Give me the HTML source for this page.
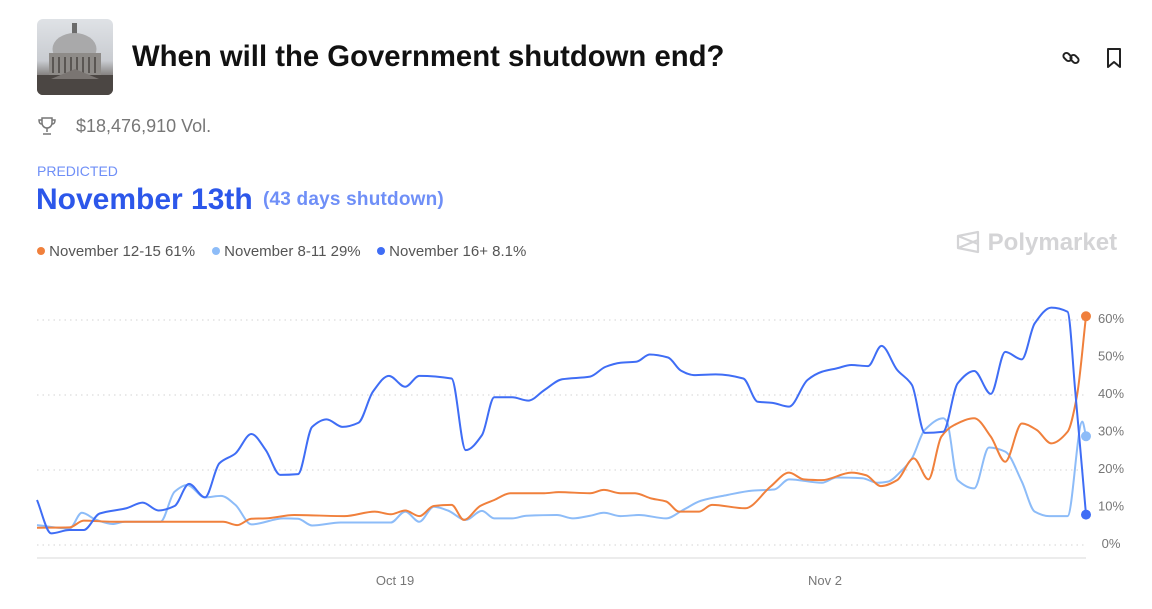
<!DOCTYPE html>
<html><head><meta charset="utf-8">
<style>
body{margin:0;width:1152px;height:609px;background:#fff;font-family:"Liberation Sans",sans-serif;position:relative;overflow:hidden}
.abs{position:absolute;white-space:nowrap}
.dot{display:inline-block;width:8px;height:8px;border-radius:4px;vertical-align:1px}
</style></head>
<body>
<div class="abs" style="left:37px;top:19px;width:76px;height:76px;border-radius:6px;overflow:hidden;background:linear-gradient(#dfe2e6,#c9ccd1 55%,#6f6a66 80%,#4a4541)">
<svg width="76" height="76" viewBox="0 0 76 76"><rect x="35" y="4" width="5" height="12" fill="#6b6b6b"/><ellipse cx="37.5" cy="30" rx="22" ry="16" fill="#a9a9aa"/><rect x="12" y="34" width="52" height="22" fill="#8e8b88"/><g fill="#5a5653"><rect x="15" y="38" width="2" height="16"/><rect x="21" y="38" width="2" height="16"/><rect x="27" y="38" width="2" height="16"/><rect x="33" y="38" width="2" height="16"/><rect x="39" y="38" width="2" height="16"/><rect x="45" y="38" width="2" height="16"/><rect x="51" y="38" width="2" height="16"/><rect x="57" y="38" width="2" height="16"/></g><rect x="0" y="56" width="76" height="20" fill="#4b4643"/><polygon points="14,60 38,50 62,60" fill="#7a7572"/></svg></div>
<div class="abs" style="left:132px;top:40px;font-size:29.3px;font-weight:bold;color:#111">When will the Government shutdown end?</div>
<svg class="abs" style="left:1060px;top:47px" width="22" height="22" viewBox="0 0 22 22"><g fill="none" stroke="#222" stroke-width="2"><rect x="3" y="7" width="9" height="6" rx="3" transform="rotate(45 7.5 10)"/><rect x="10" y="9" width="9" height="6" rx="3" transform="rotate(45 14.5 12)"/></g></svg>
<svg class="abs" style="left:1104px;top:47px" width="20" height="22" viewBox="0 0 20 22"><path d="M4 2h12v18l-6-5-6 5z" fill="none" stroke="#222" stroke-width="2" stroke-linejoin="round"/></svg>
<svg class="abs" style="left:37px;top:116px" width="20" height="20" viewBox="0 0 20 20"><g fill="none" stroke="#777" stroke-width="1.5"><path d="M5 2h10v5a5 5 0 0 1-10 0z"/><path d="M5 4H2c0 3 1 4 3 4M15 4h3c0 3-1 4-3 4M10 12v4M6 18h8"/></g></svg>
<div class="abs" style="left:76px;top:116px;font-size:18px;color:#777">$18,476,910 Vol.</div>
<div class="abs" style="left:37px;top:163px;font-size:14px;color:#6f8ff7">PREDICTED</div>
<div class="abs" style="left:36px;top:183px;font-size:30px;font-weight:bold;color:#2c57ea">November 13th</div>
<div class="abs" style="left:263px;top:189px;font-size:19px;font-weight:bold;color:#6f8ff7;letter-spacing:0.2px">(43 days shutdown)</div>
<div class="abs" style="left:37px;top:243px;font-size:15px;color:#555">
<span class="abs" style="left:0"><span class="dot" style="background:#f0803c"></span> November 12-15 61%</span>
<span class="abs" style="left:175px"><span class="dot" style="background:#8dbcf8"></span> November 8-11 29%</span>
<span class="abs" style="left:340px"><span class="dot" style="background:#3f6df5"></span> November 16+ 8.1%</span></div>
<div class="abs" style="left:955px;top:229px;font-size:24px;font-weight:bold;color:#d4d4d6"><svg width="26" height="24" viewBox="0 0 26 24" style="vertical-align:-4px"><path d="M3 6l20-4v20L3 18z M3 6l20 8M3 18l20-8" fill="none" stroke="#d4d4d6" stroke-width="2.2" stroke-linejoin="round"/></svg> Polymarket</div>
<svg id="chart" class="abs" style="left:0;top:0" width="1152" height="609"></svg>
<script>
const yTicks=[0,10,20,30,40,50,60];
const gridTicks=[0,20,40,60];
const xTickDays=[0,14];
const xTickLabels=["Oct 19","Nov 2"];
const seriesNames=["November 16+","November 8-11","November 12-15"];
const blueDays=[-11.66,-11.2,-10.6,-10.14,-9.62,-8.75,-8.22,-7.7,-7.18,-6.71,-6.19,-5.72,-5.2,-4.68,-4.21,-3.74,-3.16,-2.7,-2.23,-1.71,-1.19,-0.72,-0.2,0.33,0.79,1.84,2.3,2.83,3.23,3.81,4.34,4.86,5.44,6.35,6.85,7.34,7.87,8.29,8.89,9.31,9.73,10.44,11.34,11.81,12.29,12.83,13.43,13.9,14.38,14.86,15.4,15.84,16.35,16.83,17.25,17.85,18.32,18.86,19.4,19.87,20.41,20.83,21.37,21.9,22.15,22.5];
const blueVals=[12,3.1,4,4,8.4,9.8,11.3,9.2,10.4,16.3,12.7,21.8,24.4,29.6,25.3,18.7,18.9,31.5,33.5,31.5,32.6,40.9,45.1,42.2,45.1,44.4,25.3,29.3,39.4,39.4,38.5,41.3,44.2,44.9,47.5,48.6,48.9,50.8,50,46.5,45.3,45.5,44.4,38.2,37.9,36.9,44,46.2,47.1,48,47.7,53.1,46.7,42.7,29.9,30.2,43.1,46.4,40.3,51.5,49.5,59.1,63.3,62.2,41,8.1];
const lightDays=[-11.66,-10.6,-10.2,-9.73,-9.2,-8.8,-7.64,-7.18,-6.77,-6.19,-5.67,-5.2,-4.68,-3.63,-3.16,-2.7,-1.77,-0.14,0.33,0.79,1.26,1.72,2.3,2.83,3.23,3.81,4.28,5.27,5.79,6.35,6.8,7.34,7.94,8.83,9.37,9.96,10.8,11.64,12.35,12.83,13.9,14.38,15.22,15.7,16.05,16.47,16.83,17.25,17.85,17.97,18.32,18.86,19.34,19.87,20.41,20.83,21.3,21.9,22.38,22.5];
const lightVals=[5.3,4.4,8.6,6.7,5.6,6.2,6.2,14.2,16,12.7,13.1,10.7,5.5,7.1,7,5.2,6,6,8.9,6.2,10.2,9.2,6.7,9.1,7.1,7.1,7.8,8,7.1,7.8,8.6,7.7,8,7.1,9.3,11.8,13.3,14.5,14.8,17.5,16.6,18,17.8,16.6,16.9,19.6,23.1,30.7,33.8,32.9,17.3,15.1,26,24.9,16.9,8.9,7.7,7.7,32.9,29];
const orangeDays=[-11.66,-10.6,-10.14,-9.2,-5.6,-5.14,-4.68,-4.21,-3.28,-1.65,-0.66,-0.14,0.33,0.79,1.26,1.84,2.24,2.77,3.23,3.76,4.86,5.33,6.35,6.8,7.34,7.81,8.35,8.83,9.25,9.9,10.32,11.4,12.23,12.83,13.31,13.9,14.86,15.34,15.82,16.35,16.89,17.37,17.79,18.21,18.86,19.4,19.87,20.41,20.89,21.37,21.9,22.2,22.5];
const orangeVals=[4.6,4.7,6.5,6.2,6.2,5.3,7,7.1,8,7.7,8.9,8.2,9.2,7.7,10.4,10.7,6.7,10.4,12,13.8,13.8,14.1,13.8,14.7,13.8,13.8,12.4,11.6,8.9,8.9,10.7,9.8,15.6,19.3,17.5,17.3,19.3,18.6,15.7,17.3,23.1,17.5,28.9,32,33.8,28.9,22.2,32.4,30.7,27.1,30.2,39.5,61];
const NS="http://www.w3.org/2000/svg";
const svg=document.getElementById('chart');
const X0=37,X1=1086,D0=-11.66,D1=22.5;
const xs=d=>X0+(d-D0)/(D1-D0)*(X1-X0);
const ys=v=>545-v*3.75;
function mk(t,a){const e=document.createElementNS(NS,t);for(const k in a)e.setAttribute(k,a[k]);svg.appendChild(e);return e;}
gridTicks.forEach(v=>{const l=mk('line',{x1:X0,x2:X1,y1:ys(v),y2:ys(v),stroke:'#e2e2e2','stroke-dasharray':'1.5 4','stroke-width':1.5});

});
const base=mk('line',{x1:X0,x2:X1,y1:558,y2:558,stroke:'#ececec','stroke-width':2});


yTicks.forEach(v=>{const t=mk('text',{x:1111,y:ys(v)+3,'text-anchor':'middle','font-size':13,fill:'#777','font-family':'Liberation Sans, sans-serif'});t.textContent=v+'%';

});
xTickDays.forEach((d,i)=>{const t=mk('text',{x:xs(d),y:585,'text-anchor':'middle','font-size':13,fill:'#777','font-family':'Liberation Sans, sans-serif'});t.textContent=xTickLabels[i];

});
function pathFor(ds,vs){const p=ds.map((d,i)=>[xs(d),ys(vs[i])]);const n=p.length;
const m=[];for(let i=0;i<n;i++){if(i==0||i==n-1){const a=p[Math.max(0,i-1)],b=p[Math.min(n-1,i+1)];m.push((b[1]-a[1])/(b[0]-a[0]));continue;}
const s0=(p[i][1]-p[i-1][1])/(p[i][0]-p[i-1][0]),s1=(p[i+1][1]-p[i][1])/(p[i+1][0]-p[i][0]);m.push(s0*s1<=0?0:2*s0*s1/(s0+s1));}
let s='M'+p[0][0]+','+p[0][1];for(let i=0;i<n-1;i++){const h=(p[i+1][0]-p[i][0])/3;s+='C'+(p[i][0]+h)+','+(p[i][1]+m[i]*h)+' '+(p[i+1][0]-h)+','+(p[i+1][1]-m[i+1]*h)+' '+p[i+1][0]+','+p[i+1][1];}return s;}
function drawSeries(ds,vs,color,name){const pe=mk('path',{d:pathFor(ds,vs),fill:'none',stroke:color,'stroke-width':2,'stroke-linejoin':'round'});


const c=mk('circle',{cx:xs(ds[ds.length-1]),cy:ys(vs[vs.length-1]),r:5,fill:color});

}
drawSeries(lightDays,lightVals,'#8dbcf8','nov-8-11');
drawSeries(orangeDays,orangeVals,'#f0803c','nov-12-15');
drawSeries(blueDays,blueVals,'#3f6df5','nov-16-plus');
</script>
</body></html>
